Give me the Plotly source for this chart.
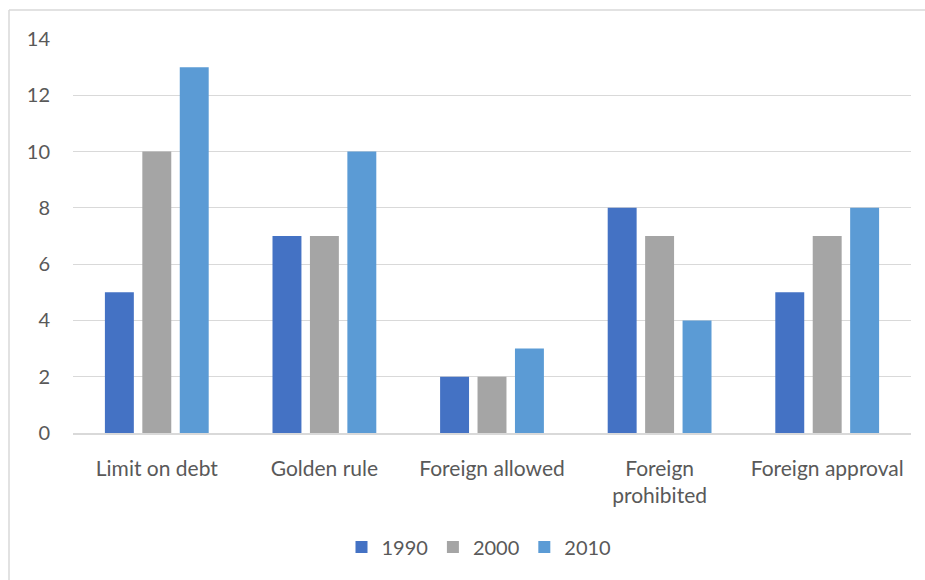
import plotly.graph_objects as go

categories = ["Limit on debt", "Golden rule", "Foreign allowed", "Foreign<br>prohibited", "Foreign approval"]
series_names = ["1990", "2000", "2010"]
values_1990 = [5, 7, 2, 8, 5]
values_2000 = [10, 7, 2, 7, 7]
values_2010 = [13, 10, 3, 4, 8]
colors = ["#4472C4", "#A5A5A5", "#5B9BD5"]

fig = go.Figure()
for name, vals, col in zip(series_names, [values_1990, values_2000, values_2010], colors):
    fig.add_trace(go.Bar(x=categories, y=vals, name=name, marker=dict(color=col, line=dict(width=0))))

L, R, T, B = 73, 14, 39, 147
W, H = 925, 580
pw, ph = W - L - R, H - T - B

def px_x(x):
    return (x - L) / pw

def px_y(y):
    return (T + ph - y) / ph

border = dict(color="#D9D9D9", width=1.5)

fig.update_layout(
    width=W, height=H,
    margin=dict(l=L, r=R, t=T, b=B),
    paper_bgcolor="white", plot_bgcolor="white",
    font=dict(family="Lato, Open Sans, sans-serif", size=20, color="#595959"),
    barmode="group", bargap=0.33, bargroupgap=0.227,
    showlegend=True,
    legend=dict(orientation="h", x=px_x(479), xanchor="center", y=px_y(547), yanchor="middle",
                font=dict(size=20, color="#595959"), itemwidth=30, traceorder="normal"),
    xaxis=dict(showgrid=False, showline=True, linecolor="#D9D9D9", linewidth=1.5,
               ticks="", ticklabelstandoff=16, tickfont=dict(size=21, color="#595959")),
    yaxis=dict(range=[0, 14], dtick=2, showgrid=True, gridcolor="#D9D9D9", gridwidth=1,
               zeroline=False, showline=False, ticks="", ticklabelstandoff=22,
               tickfont=dict(size=20, color="#595959")),
    shapes=[
        dict(type="line", xref="paper", yref="paper", x0=px_x(9), x1=px_x(930), y0=px_y(10), y1=px_y(10),
             line=border, layer="below"),
        dict(type="line", xref="paper", yref="paper", x0=px_x(9), x1=px_x(9), y0=px_y(10), y1=px_y(585),
             line=border, layer="below"),
    ],
)

fig.write_html("out.html", config={"displayModeBar": False},
               post_script="document.body.style.margin='0px';")
